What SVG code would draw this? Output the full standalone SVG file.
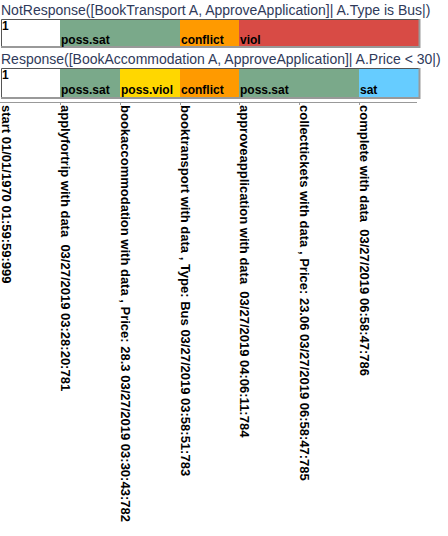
<svg xmlns="http://www.w3.org/2000/svg" width="448" height="536" viewBox="0 0 448 536">
<defs>
<style>
.title{font-family:"Liberation Sans",Arial,sans-serif;font-size:14px;fill:#2f3a5a}
.lbl{font-family:"Liberation Sans",Arial,sans-serif;font-size:12px;font-weight:bold;fill:#000}
.ev{font-family:"Liberation Sans",Arial,sans-serif;font-size:13px;font-weight:bold;fill:#000;white-space:pre}
.white{fill:#ffffff}.green{fill:#7aa98a}.orange{fill:#ff9a00}.red{fill:#d84b45}.yellow{fill:#ffd700}.blue{fill:#66ccff}
.tick{stroke:#999;stroke-width:1}
</style>
<clipPath id="clipEv"><rect x="0" y="100" width="448" height="424"/></clipPath>
</defs>
<rect x="0" y="0" width="448" height="536" fill="#fff"/>
<g id="constraint1">
<text class="title" x="1" y="14.5">NotResponse([BookTransport A, ApproveApplication]| A.Type is Bus|)</text>
<rect class="white" x="1" y="19" width="59" height="28"/>
<rect class="green" x="60" y="19" width="120" height="28"/>
<rect class="orange" x="180" y="19" width="59" height="28"/>
<rect class="red" x="239" y="19" width="180" height="28"/>
<path d="M1.5,47 V19.5 H419" fill="none" stroke="#555" stroke-width="1"/>
<path d="M1,47 H419.5 V19" fill="none" stroke="#999" stroke-width="2"/>
<text class="lbl" x="2" y="30">1</text>
<text class="lbl" x="61" y="44">poss.sat</text>
<text class="lbl" x="181" y="44">conflict</text>
<text class="lbl" x="240" y="44">viol</text>
</g>
<g id="constraint2">
<text class="title" x="1" y="64">Response([BookAccommodation A, ApproveApplication]| A.Price &lt; 30|)</text>
<rect class="white" x="1" y="68" width="59" height="29"/>
<rect class="green" x="60" y="68" width="60" height="29"/>
<rect class="yellow" x="120" y="68" width="60" height="29"/>
<rect class="orange" x="180" y="68" width="59" height="29"/>
<rect class="green" x="239" y="68" width="120" height="29"/>
<rect class="blue" x="359" y="68" width="60" height="29"/>
<path d="M1.5,97 V68.5 H419" fill="none" stroke="#555" stroke-width="1"/>
<path d="M1,98 H419.5 V68" fill="none" stroke="#999" stroke-width="2"/>
<text class="lbl" x="2" y="79">1</text>
<text class="lbl" x="61" y="93.5">poss.sat</text>
<text class="lbl" x="121" y="93.5">poss.viol</text>
<text class="lbl" x="181" y="93.5">conflict</text>
<text class="lbl" x="240" y="93.5">poss.sat</text>
<text class="lbl" x="360" y="93.5">sat</text>
</g>
<g id="axis">
<line class="tick" x1="0" y1="102.5" x2="417" y2="102.5"/>
<line class="tick" x1="60.5" y1="102" x2="60.5" y2="105"/>
<line class="tick" x1="120.5" y1="102" x2="120.5" y2="105"/>
<line class="tick" x1="180.5" y1="102" x2="180.5" y2="105"/>
<line class="tick" x1="239.5" y1="102" x2="239.5" y2="105"/>
<line class="tick" x1="299.5" y1="102" x2="299.5" y2="105"/>
<line class="tick" x1="359.5" y1="102" x2="359.5" y2="105"/>
</g>
<g id="events" clip-path="url(#clipEv)">
<text class="ev" xml:space="preserve" transform="translate(1.5,105) rotate(90)">start 01/01/1970 01:59:59:999</text>
<text class="ev" xml:space="preserve" transform="translate(61,105) rotate(90)">applyfortrip with data  03/27/2019 03:28:20:781</text>
<text class="ev" xml:space="preserve" transform="translate(121,105) rotate(90)">bookaccommodation with data , Price: 28.3 03/27/2019 03:30:43:782</text>
<text class="ev" xml:space="preserve" transform="translate(181,105) rotate(90)">booktransport with data , Type: Bus 03/27/2019 03:58:51:783</text>
<text class="ev" xml:space="preserve" transform="translate(240,105) rotate(90)">approveapplication with data  03/27/2019 04:06:11:784</text>
<text class="ev" xml:space="preserve" transform="translate(300,105) rotate(90)">collecttickets with data , Price: 23.06 03/27/2019 06:58:47:785</text>
<text class="ev" xml:space="preserve" transform="translate(360,105) rotate(90)">complete with data  03/27/2019 06:58:47:786</text>
</g>
</svg>
